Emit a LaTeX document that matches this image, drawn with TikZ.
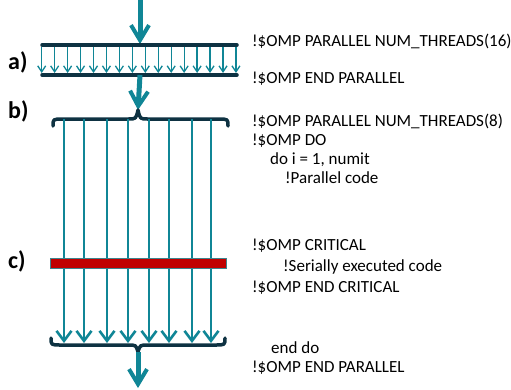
\documentclass[tikz,border=0pt]{standalone}
\usepackage{fontspec}
\setmainfont{Carlito}
\usetikzlibrary{arrows.meta,calc}
\definecolor{teal1}{RGB}{16,134,150}
\definecolor{navy1}{RGB}{14,50,66}
\definecolor{red1}{RGB}{192,0,0}
\tikzset{
  bigarrow/.style={teal1, line width=5pt, -{Straight Barb[length=15pt,width=18pt,line width=4pt]}},
  thread/.style={teal1, line width=2.6pt, -{Straight Barb[length=10pt,width=15pt,line width=2.6pt]}},
  smallthread/.style={teal1, line width=1.3pt, -{Straight Barb[length=6pt,width=8pt,line width=1.3pt]}},
  barline/.style={navy1, line width=3.5pt, line cap=round},
  brace/.style={navy1, line width=3.5pt, line cap=round, line join=round},
  code/.style={font=\fontsize{17}{19}\selectfont, anchor=base west, inner sep=0pt},
  lbl/.style={font=\fontsize{24}{27}\selectfont\bfseries, anchor=base west, inner sep=0pt}
}
\begin{document}
\begin{tikzpicture}[x=1pt,y=-1pt]
\useasboundingbox (0,0) rectangle (511,389);
% coordinates
\coordinate (topin) at (140,0);
\coordinate (aTopL) at (42,45);
\coordinate (aTopR) at (237,45);
\coordinate (aBotL) at (42,75);
\coordinate (aBotR) at (237,75);
\coordinate (aTopC) at (140,44);
\coordinate (aBotC) at (140,75);
\coordinate (bCusp) at (138,110);
\coordinate (eCusp) at (138,352);
\coordinate (out) at (138,388);
% top arrow
\draw[bigarrow] (topin) -- (aTopC);
% region a
\foreach \i in {0,...,15} {
  \draw[smallthread] (41.7+\i*12.95,47) -- (41.7+\i*12.95,73);
}
\draw[barline] (aTopL) -- (aTopR);
\draw[barline] (aBotL) -- (aBotR);
% arrow to b
\draw[bigarrow] (aBotC) -- (bCusp);
% top brace
\draw[brace] (53,126) .. controls (53,119) .. (63,119) -- (128,119) .. controls (136,119) .. (bCusp) .. controls (140,119) .. (148,119) -- (218,119) .. controls (228,119) .. (228,126);
% threads
\foreach \x in {64,84,107,128,149,169,192,211} {
  \draw[thread] (\x,119) -- (\x,343);
}
% critical bar
\node[draw=teal1!60!gray, line width=0.8pt, fill=red1, minimum width=176pt, minimum height=10pt, inner sep=0pt] (crit) at (138,263) {};
% bottom brace
\draw[brace] (51,338) .. controls (51,345) .. (61,345) -- (128,345) .. controls (136,345) .. (eCusp) .. controls (140,345) .. (148,345) -- (215,345) .. controls (225,345) .. (225,338);
\draw[bigarrow] (eCusp) -- (out);
% labels
\node[lbl] (la) at (8,69) {a)};
\node[lbl] (lb) at (8,118) {b)};
\node[lbl] (lc) at (8,268) {c)};
% code
\node[code] (t1) at (252,46) {!\$OMP PARALLEL NUM\_THREADS(16)};
\node[code] (t2) at (252,83) {!\$OMP END PARALLEL};
\node[code] (t3) at (252,126) {!\$OMP PARALLEL NUM\_THREADS(8)};
\node[code] (t4) at (252,145) {!\$OMP DO};
\node[code] (t5) at (270,164) {do i = 1, numit};
\node[code] (t6) at (285,183) {!Parallel code};
\node[code] (t7) at (252,250) {!\$OMP CRITICAL};
\node[code] (t8) at (283,271) {!Serially executed code};
\node[code] (t9) at (252,292) {!\$OMP END CRITICAL};
\node[code] (t10) at (271,353) {end do};
\node[code] (t11) at (252,372) {!\$OMP END PARALLEL};
\end{tikzpicture}
\end{document}
